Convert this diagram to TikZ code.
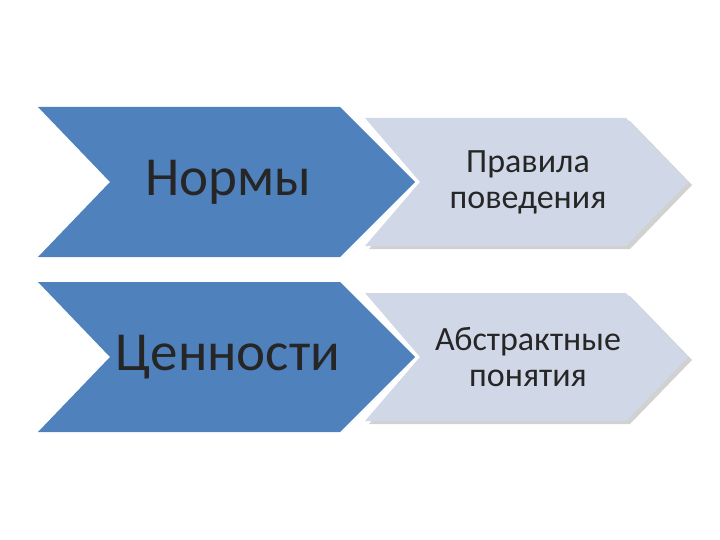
\documentclass[tikz,border=0pt]{standalone}
\usepackage{fontspec}
\setmainfont{Carlito}
\begin{document}
\begin{tikzpicture}[x=1pt,y=-1pt,
 dark/.style={fill={rgb,255:red,79;green,129;blue,189}},
 light/.style={fill={rgb,255:red,208;green,216;blue,232}},
 shad/.style={fill=black!18},
 bigt/.style={font=\fontsize{55}{60}\selectfont,text=black!85},
 smallt/.style={font=\fontsize{34}{36}\selectfont,text=black!85,align=center}]
\useasboundingbox (0,0) rectangle (720,540);
\foreach \y in {0,175}{
 \begin{scope}[yshift=-\y]
 \fill[shad] (369,121)--(630,121)--(692,185)--(630,249)--(369,249)--(424,185)--cycle;
 \fill[light] (365,118)--(626,118)--(688,182)--(626,246)--(365,246)--(420,182)--cycle;
 \fill[dark] (38,107)--(340,107)--(415,182)--(340,257)--(38,257)--(110,182)--cycle;
 \end{scope}}
\node[bigt] (n1) at (228,182) {Нормы};
\node[bigt] (n2) at (228,357) {Ценности};
\node[smallt] (l1) at (528,182) {Правила\\поведения};
\node[smallt] (l2) at (528,357) {Абстрактные\\понятия};
\end{tikzpicture}
\end{document}
